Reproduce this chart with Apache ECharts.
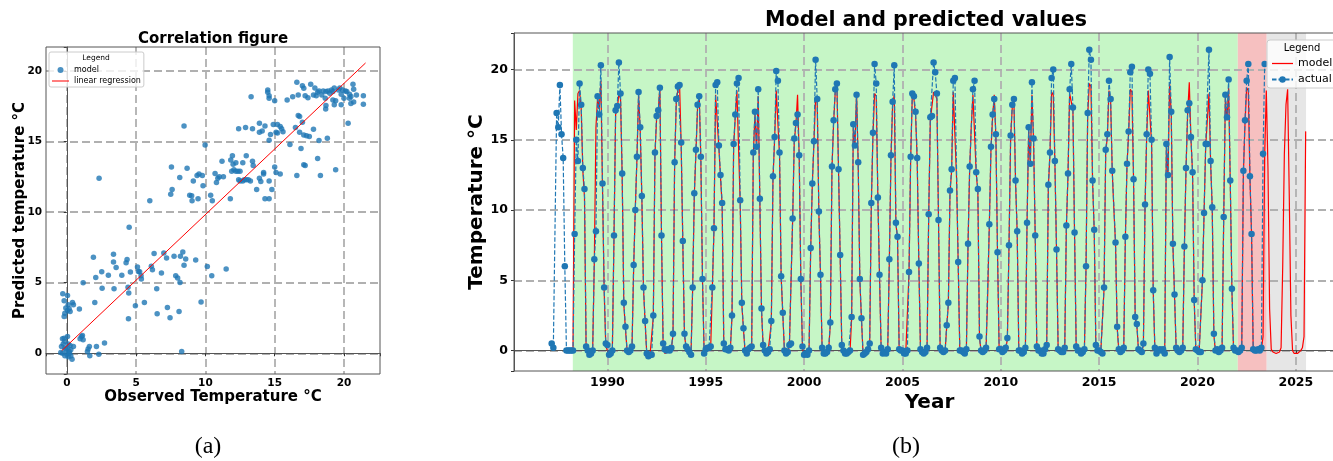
<!DOCTYPE html>
<html>
<head>
<meta charset="utf-8">
<title>Correlation figure / Model and predicted values</title>
<script src="https://cdn.jsdelivr.net/npm/echarts@6.0.0/dist/echarts.min.js"></script>
<style>
	html, body { margin: 0; padding: 0; background: #fff; }
	#chart { width: 1333px; height: 461px; }
</style>
</head>
<body>
<div id="chart"></div>
<script type="text/javascript">
// (a) observed vs predicted temperature, °C (same order in both arrays)
var obsTemp = [
	-0.29,0.05,-0.19,0.10,0.41,0.48,0.91,-0.07,0.17,0.05,
	-0.14,-0.19,0.24,-0.31,-0.19,0.05,-0.14,-0.26,0.10,0.24,
	-0.38,-0.14,0.48,-0.05,0.17,0.29,-0.31,0.00,-0.14,0.10,
	0.29,0.38,-0.43,0.05,0.20,0.96,1.06,1.18,1.13,1.54,
	1.63,1.49,1.66,2.14,2.72,2.31,
	4.50,1.92,3.37,3.37,3.56,4.28,4.35,2.52,3.00,3.97,
	4.59,5.10,5.17,5.26,5.36,5.38,2.09,1.18,2.55,3.41,
	4.42,4.47,4.45,2.02,4.95,5.60,6.10,6.18,6.30,6.83,
	7.00,7.20,6.49,6.52,7.26,7.45,7.74,8.20,8.37,8.46,
	8.58,7.86,8.00,8.17,8.10,9.30,9.69,10.14,10.46,11.50,8.29,
	2.33,5.99,8.46,7.55,7.50,7.60,8.15,8.68,8.87,9.01,
	9.04,9.13,9.40,9.54,9.78,9.83,9.47,9.98,10.38,10.50,
	10.70,10.80,10.90,11.00,11.30,11.20,11.80,11.83,11.95,12.00,
	12.20,11.90,12.06,12.20,12.35,12.50,12.70,12.95,12.70,12.80,
	12.95,13.10,13.25,13.40,13.45,12.50,12.40,13.70,13.90,14.00,
	14.20,14.20,14.30,14.60,14.80,14.60,15.00,15.10,15.40,16.60,
	17.10,17.20,18.10,18.30,19.40,16.90,12.40,12.90,13.40,13.90,
	14.10,14.30,13.90,14.70,14.60,14.90,15.20,15.40,15.50,15.60,
	15.20,15.10,16.10,16.50,16.70,16.80,17.00,16.80,17.10,17.30,
	17.50,17.80,18.20,18.80,20.30,14.50,14.50,14.60,14.60,13.30,
	15.00,15.90,16.30,16.60,16.70,17.00,17.10,17.20,17.40,17.60,
	17.90,17.80,18.00,18.10,18.20,18.40,18.50,18.65,18.70,18.85,
	18.97,19.10,19.20,18.70,18.68,19.20,19.30,19.40,19.70,19.80,
	19.80,20.10,20.20,20.40,20.50,20.65,20.70,20.90,20.40,20.50,
	20.70,21.40,21.40,19.90,19.60,19.30,20.00
];
var predTemp = [
	4.22,4.10,3.72,3.44,3.60,3.44,3.13,3.20,3.15,3.03,
	2.84,2.60,2.96,1.02,1.07,1.18,0.83,0.66,0.66,0.55,
	0.47,0.36,0.47,0.24,0.12,0.24,0.00,-0.05,-0.17,-0.24,
	-0.19,-0.43,0.05,0.36,0.00,1.02,1.18,0.95,1.26,0.31,
	0.47,0.12,-0.17,0.47,0.73,-0.07,
	8.93,6.80,7.01,6.47,6.07,6.42,6.64,5.78,5.52,5.52,
	5.76,6.11,5.80,5.78,5.50,5.26,5.36,5.00,4.60,4.57,
	4.67,4.27,2.44,3.60,3.36,3.60,6.16,5.92,7.06,5.69,
	7.10,6.75,4.57,2.80,3.25,2.51,6.87,6.87,7.18,6.23,
	6.68,5.50,5.33,5.02,2.96,6.61,3.63,6.14,5.50,5.97,0.12,
	12.40,10.80,16.10,13.20,11.27,11.60,12.45,13.10,11.20,11.16,
	10.80,12.20,12.60,12.70,12.60,11.86,10.94,14.76,11.20,10.80,
	12.74,12.10,12.40,12.50,12.50,13.60,10.94,13.70,14.00,13.40,
	13.50,12.90,13.00,12.90,12.90,12.90,13.50,14.00,12.20,12.30,
	12.30,12.30,12.20,13.60,13.30,12.20,12.30,11.60,12.40,12.17,
	12.70,12.80,10.94,10.94,11.60,12.20,13.20,12.80,12.70,12.60,
	13.35,13.30,13.80,12.60,13.00,14.50,15.90,16.00,15.90,16.30,
	15.75,16.10,15.66,15.50,15.10,16.20,16.20,16.06,15.90,15.70,
	15.60,15.66,14.80,15.99,16.84,16.77,16.37,15.66,15.47,15.42,
	15.35,15.87,15.07,15.24,16.30,18.66,18.50,18.25,18.07,18.18,
	17.90,17.95,18.18,19.20,18.30,18.96,18.77,18.25,18.10,19.06,
	18.80,18.30,18.25,18.50,18.58,18.30,18.58,18.07,18.54,18.58,
	18.42,18.66,18.54,17.55,17.30,17.95,17.60,17.90,18.80,18.35,
	17.60,18.58,18.54,18.35,18.20,19.06,18.70,18.30,18.07,17.70,
	17.80,18.25,17.64,18.66,18.66,18.80,18.07
];
// fitted line, end points
var regObs = [-0.36, 21.56];
var regPred = [0.19, 20.57];

// (b) monthly values, one row per year, Jan..Dec (null = no sample)
var actualStartYear = 1987;
var actualRows = [
	[null, null, 0.5, 0.2, null, 16.9, 15.9, 18.9, 15.4, 13.7, 6.0, 0.0],
	[0.0, 0.0, 0.0, 0.0, 8.3, 15.0, 13.5, 19.0, 17.5, 13.0, 11.5, 0.3],
	[0.0, -0.3, -0.2, 0.0, 6.5, 8.5, 18.1, 16.8, 20.3, 11.9, 4.5, 0.5],
	[0.4, -0.3, -0.2, 0.0, 8.2, 17.1, 17.4, 20.5, 18.3, 12.6, 3.4, 1.7],
	[0.0, -0.1, 0.0, 0.3, 6.1, 10.0, 13.8, 18.4, 15.9, 11.0, 4.5, 2.1],
	[-0.2, -0.4, -0.3, -0.3, 2.5, 14.1, 16.7, 17.1, 18.7, 8.2, 0.5, 0.1],
	[0.0, 0.1, 0.0, 0.2, 1.2, 13.4, 17.9, 18.8, 18.9, 14.8, 7.8, 1.2],
	[0.3, 0.1, -0.1, -0.3, 4.5, 11.2, 14.3, 17.5, 18.1, 13.8, 5.1, -0.2],
	[0.1, 0.2, 0.2, 0.3, 4.5, 8.7, 18.9, 19.1, 14.6, 12.5, 10.5, 0.5],
	[0.1, 0.1, 0.0, 0.2, 2.5, 14.7, 16.8, 19.0, 19.4, 10.7, 3.4, 1.6],
	[0.0, -0.2, 0.1, 0.2, 0.3, 14.1, 17.0, 14.5, 18.6, 10.8, 3.0, 0.4],
	[0.0, -0.2, -0.1, 0.1, 2.1, 12.4, 15.2, 19.9, 19.2, 14.1, 5.3, 2.7],
	[0.0, -0.2, -0.1, 0.4, 0.5, 9.4, 15.1, 16.2, 16.8, 13.9, 5.1, 0.3],
	[-0.3, -0.2, -0.3, 0.0, 7.3, 11.9, 14.9, 20.7, 17.9, 9.9, 5.4, 0.2],
	[-0.2, -0.2, -0.1, 0.2, 2.0, 13.1, 16.4, 18.6, 19.0, 12.9, 6.8, 0.4],
	[0.0, -0.2, -0.2, -0.1, 0.0, 2.4, 16.1, 14.6, 18.2, 13.4, 5.1, 2.3],
	[-0.3, -0.2, -0.1, 0.1, 0.5, 10.5, 15.5, 20.4, 19.0, 10.9, 5.4, 0.2],
	[-0.2, -0.1, -0.2, 0.1, 6.5, 13.9, 17.7, 20.3, 9.1, 8.1, 0.1, 0.0],
	[0.0, -0.2, -0.2, 0.0, 5.6, 13.8, 18.3, 18.1, 17.0, 13.7, 6.2, 0.1],
	[-0.1, -0.2, -0.1, 0.2, 9.7, 16.6, 16.7, 20.5, 19.8, 18.3, 9.3, 0.2],
	[0.0, -0.1, 0.0, 1.8, 3.4, 11.4, 12.9, 19.2, 19.4, null, 6.3, 0.0],
	[0.0, -0.1, -0.2, 0.1, 7.6, 13.1, null, 18.6, 19.2, 12.7, 11.5, 1.0],
	[0.0, -0.1, 0.0, 0.2, null, 9.0, 14.5, 16.8, 17.9, 15.4, 7.0, 0.1],
	[0.1, -0.1, 0.0, 0.2, 0.9, 7.5, 15.3, 17.5, 17.9, 12.1, 8.5, 0.0],
	[0.0, -0.2, -0.1, 0.2, 9.1, 15.9, 13.3, 19.1, 15.1, 8.2, 0.3, 0.0],
	[0.0, -0.2, -0.2, 0.1, 0.4, 11.8, 14.1, 19.4, 20.0, 13.5, 7.2, 0.1],
	[0.0, -0.1, -0.1, 0.2, 8.9, 12.6, 18.6, 20.4, 17.3, 8.4, 0.3, 0.0],
	[0.0, -0.2, -0.1, 0.1, 6.0, 16.9, 21.4, 20.7, 12.1, 8.6, 0.4, 0.0],
	[0.0, -0.1, -0.2, 4.5, 14.3, 15.4, 19.2, 17.9, 12.8, null, 7.7, 1.7],
	[0.1, -0.1, 0.0, 0.2, 8.1, 13.3, 15.6, 19.8, 20.2, 12.2, 2.4, 1.9],
	[0.1, 0.0, -0.1, 0.5, 10.4, 15.4, 20.0, 19.7, 15.0, 4.3, 0.2, -0.2],
	[0.0, 0.1, 0.0, 0.1, -0.2, 14.7, 12.5, 20.9, 17.0, 7.6, 4.0, 0.2],
	[0.0, -0.1, 0.0, 0.2, 7.4, 13.0, 17.1, 17.6, 15.2, 12.7, 3.6, 0.1],
	[0.0, -0.1, -0.1, 5.0, 9.8, 14.7, 14.7, 21.4, 13.5, 10.2, 1.2, 0.0],
	[0.1, -0.1, 0.0, 0.2, 9.5, 18.2, 16.6, 19.3, 12.1, 4.4, 0.2, 0.0],
	[0.0, -0.1, 0.0, 0.2, 12.8, 16.4, 19.2, 20.4, 12.4, 8.3, 0.1, 0.0],
	[0.0, 0.1, 0.0, 0.2, 14.0, 20.4]
];
var modelStartYear = 1988;
var modelRows = [
	[null, null, null, 0.0, 17.8, 15.7, 18.3, 18.5, 17.2, 12.8, 10.9, 0.2],
	[-0.1, -0.2, -0.1, 0.1, 6.3, 15.9, 18.0, 17.2, 19.2, 11.5, 4.3, 0.3],
	[0.2, -0.3, -0.3, 0.0, 8.0, 16.8, 17.2, 18.3, 17.9, 12.4, 3.3, 1.5],
	[0.0, -0.2, -0.1, 0.2, 5.9, 10.1, 13.6, 18.2, 15.7, 10.9, 4.4, 2.0],
	[-0.2, -0.3, -0.3, -0.2, 2.4, 13.9, 16.5, 17.0, 18.8, 8.0, 0.3, -0.2],
	[-0.3, -0.1, -0.1, 0.1, 1.1, 13.3, 17.6, 18.6, 19.0, 14.6, 7.6, 1.1],
	[0.2, 0.0, -0.1, -0.2, 4.4, 11.0, 14.1, 17.3, 18.2, 13.6, 5.0, -0.1],
	[0.0, 0.1, 0.1, 0.2, 4.4, 8.6, 18.2, 18.3, 14.4, 12.3, 10.3, 0.4],
	[0.0, 0.0, -0.1, 0.1, 2.4, 14.5, 16.6, 18.5, 18.6, 10.5, 3.3, 1.5],
	[-0.1, -0.2, 0.0, 0.1, 0.2, 13.9, 16.8, 14.4, 18.1, 10.6, 2.9, 0.3],
	[-0.1, -0.2, -0.1, 0.0, 2.0, 12.2, 15.0, 18.5, 18.4, 13.9, 5.2, 2.6],
	[-0.1, -0.2, -0.1, 0.3, 0.4, 9.3, 14.9, 16.1, 18.2, 13.8, 5.0, 0.2],
	[-0.3, -0.3, -0.3, -0.1, 7.1, 11.8, 14.8, 18.0, 17.6, 9.8, 5.3, 0.1],
	[-0.2, -0.2, -0.2, 0.1, 1.9, 13.0, 16.2, 18.4, 19.0, 12.8, 6.7, 0.3],
	[-0.1, -0.2, -0.2, -0.1, -0.1, 2.3, 15.9, 14.5, 18.4, 13.2, 5.0, 2.2],
	[-0.3, -0.3, -0.2, 0.0, 0.4, 10.4, 15.3, 18.3, 18.1, 10.8, 5.3, 0.1],
	[-0.2, -0.2, -0.2, 0.0, 6.4, 13.7, 17.5, 18.2, 9.0, 8.0, 0.0, -0.1],
	[-0.1, -0.2, -0.2, -0.1, 5.5, 13.6, 18.1, 17.9, 16.8, 13.5, 6.1, 0.0],
	[-0.1, -0.2, -0.2, 0.1, 9.5, 16.4, 16.5, 18.4, 18.2, 17.9, 9.2, 0.1],
	[-0.1, -0.1, -0.1, 1.7, 3.3, 11.2, 12.8, 18.4, 18.3, 12.3, 6.2, -0.1],
	[-0.1, -0.1, -0.2, 0.0, 7.5, 12.9, 16.0, 18.2, 18.1, 12.6, 11.3, 0.9],
	[-0.1, -0.1, -0.1, 0.1, 4.0, 8.9, 14.3, 16.6, 18.2, 15.2, 6.9, 0.0],
	[0.0, -0.1, -0.1, 0.1, 0.8, 7.4, 15.1, 17.3, 17.8, 12.0, 8.4, -0.1],
	[-0.1, -0.2, -0.1, 0.1, 9.0, 15.7, 13.2, 18.2, 14.9, 8.1, 0.2, -0.1],
	[-0.1, -0.2, -0.2, 0.0, 0.3, 11.6, 14.0, 18.4, 18.2, 13.4, 7.1, 0.0],
	[-0.1, -0.1, -0.1, 0.1, 8.8, 12.5, 18.3, 18.3, 17.1, 8.3, 0.2, -0.1],
	[-0.1, -0.2, -0.2, 0.0, 5.9, 16.7, 19.0, 18.8, 12.0, 8.5, 0.3, -0.1],
	[-0.1, -0.1, -0.2, 4.4, 14.1, 15.2, 18.5, 17.8, 12.7, 10.0, 7.6, 1.6],
	[0.0, -0.1, -0.1, 0.1, 8.0, 13.2, 15.5, 18.6, 18.4, 12.1, 2.3, 1.8],
	[0.0, -0.1, -0.1, 0.4, 10.3, 15.2, 18.5, 18.4, 14.8, 4.2, 0.1, -0.2],
	[-0.1, 0.0, -0.1, 0.0, -0.2, 14.5, 12.4, 19.0, 16.8, 7.5, 3.9, 0.1],
	[-0.1, -0.1, -0.1, 0.1, 7.3, 12.9, 16.9, 19.1, 15.1, 12.6, 3.5, 0.0],
	[-0.1, -0.1, -0.1, 4.9, 9.7, 14.5, 14.6, 18.3, 13.4, 10.1, 1.1, -0.1],
	[0.0, -0.1, -0.1, 0.1, 9.4, 18.0, 16.4, 18.7, 12.0, 4.3, 0.1, -0.1],
	[-0.1, -0.1, -0.1, 0.1, 12.6, 16.2, 18.7, 18.5, 12.3, 8.2, 0.0, -0.1],
	[-0.1, 0.0, -0.1, 0.1, 1.0, 14.0, 18.5, 13.0, 3.0, 0.1, -0.1, -0.2],
	[-0.2, -0.2, -0.1, 0.2, 6.0, 14.0, 17.5, 18.6, 11.0, 2.5, 0.0, -0.2],
	[-0.2, -0.2, -0.1, 0.0, 0.2, 1.0, 15.6]
];
// shaded periods, in years
var trainSpan = [1988.24, 2022.05];
var testSpan = [2022.05, 2023.52];
var forecastSpan = [2023.52, 2025.52];

var legendText = { modelA: 'model', regA: 'linear regression', modelB: 'model', actualB: 'actual' };

function monthly(startYear, rows) {
	var out = [];
	rows.forEach(function (row, i) {
		row.forEach(function (v, m) {
			if (v !== null) out.push([startYear + i + m / 12, v]);
		});
	});
	return out;
}

var scatterPts = obsTemp.map(function (x, i) { return [x, predTemp[i]]; });
var regPts = [[regObs[0], regPred[0]], [regObs[1], regPred[1]]];

var FONT = 'DejaVu Sans';
// plain thin bar used as legend icon for the solid red lines
var LINE_ICON = 'path://M0,0 L20,0 L20,1.2 L0,1.2 Z';
var gridLine = { show: true, showMinLine: false, showMaxLine: false, lineStyle: { color: '#b0b0b0', width: 1.8, type: [8, 4] } };
var tick = { show: true, length: 3, lineStyle: { color: '#333', width: 1 } };
var frame = { show: true, lineStyle: { color: '#555', width: 1 } };
function label(size, margin, fmt) {
	return { show: true, fontFamily: FONT, fontWeight: 'bold', fontSize: size, color: '#000', margin: margin, formatter: fmt };
}
function everyFive(v) { return Math.abs(v % 5) < 1e-6 ? String(v) : ''; }
function nameStyle(size) {
	return { fontFamily: FONT, fontWeight: 'bold', fontSize: size, color: '#000' };
}

var chart = echarts.init(document.getElementById('chart'));
chart.setOption({
	animation: false,
	backgroundColor: '#fff',
	textStyle: { fontFamily: FONT },
	grid: [
		{ left: 46, top: 47, width: 334, height: 327, show: true, borderColor: '#555', borderWidth: 1, z: 1, outerBoundsMode: 'none', containLabel: false },
		{ left: 514, top: 33, width: 831, height: 338, show: true, borderColor: '#555', borderWidth: 1, z: 1.7, outerBoundsMode: 'none', containLabel: false }
	],
	xAxis: [
		{
			type: 'value', gridIndex: 0, min: -1.5, max: 22.6, splitNumber: 5,
			axisLine: frame, axisTick: tick, splitLine: gridLine,
			axisLabel: label(10.5, 4, everyFive),
			name: 'Observed Temperature °C', nameLocation: 'middle', nameGap: 16, nameMoveOverlap: false,
			nameTextStyle: nameStyle(15)
		},
		{
			type: 'value', gridIndex: 1, min: 1985.25, max: 2027.5, splitNumber: 8, z: 1.5,
			axisLine: frame, axisTick: tick, splitLine: gridLine,
			axisLabel: label(12.5, 5, everyFive),
			name: 'Year', nameLocation: 'middle', nameGap: 22, nameMoveOverlap: false,
			nameTextStyle: nameStyle(20)
		}
	],
	yAxis: [
		{
			type: 'value', gridIndex: 0, min: -1.47, max: 21.7, splitNumber: 5,
			axisLine: frame, axisTick: tick, splitLine: gridLine,
			axisLabel: label(10.5, 4, everyFive),
			name: 'Predicted temperature °C', nameLocation: 'middle', nameGap: 18, nameMoveOverlap: false,
			nameTextStyle: nameStyle(15)
		},
		{
			type: 'value', gridIndex: 1, min: -1.45, max: 22.6, splitNumber: 5, z: 1.5,
			axisLine: frame, axisTick: tick, splitLine: gridLine,
			axisLabel: label(12.5, 6, everyFive),
			name: 'Temperature °C', nameLocation: 'middle', nameGap: 27, nameMoveOverlap: false,
			nameTextStyle: nameStyle(20)
		}
	],
	legend: [
		{
			left: 49, top: 52, orient: 'vertical', selectedMode: false, z: 10,
			data: [{ name: 'modelA', icon: 'circle' }, { name: 'regA', icon: LINE_ICON }],
			formatter: function (n) { return legendText[n]; },
			itemWidth: 17, itemHeight: 6, itemGap: 3, padding: [14, 3, 2, 3],
			textStyle: { fontFamily: FONT, fontSize: 8, color: '#000' },
			backgroundColor: 'rgba(255,255,255,0.8)', borderColor: '#cccccc', borderWidth: 1, borderRadius: 2
		},
		{
			left: 1267, top: 40, orient: 'vertical', selectedMode: false, z: 10,
			data: [{ name: 'modelB', icon: LINE_ICON }, 'actualB'],
			formatter: function (n) { return legendText[n]; },
			itemWidth: 21, itemHeight: 8, itemGap: 5, padding: [18, 5, 3, 4],
			textStyle: { fontFamily: FONT, fontSize: 11, color: '#000' },
			backgroundColor: 'rgba(255,255,255,0.8)', borderColor: '#cccccc', borderWidth: 1, borderRadius: 3
		}
	],
	graphic: [
		{ type: 'text', x: 213, y: 39, z: 30, style: { text: 'Correlation figure', align: 'center', verticalAlign: 'middle', textAlign: 'center', textVerticalAlign: 'middle', fontFamily: FONT, fontWeight: 'bold', fontSize: 15, fill: '#000' } },
		{ type: 'text', x: 926, y: 21, z: 30, style: { text: 'Model and predicted values', align: 'center', verticalAlign: 'middle', textAlign: 'center', textVerticalAlign: 'middle', fontFamily: FONT, fontWeight: 'bold', fontSize: 20.6, fill: '#000' } },
		{ type: 'text', x: 96, y: 58.5, z: 30, style: { text: 'Legend', align: 'center', verticalAlign: 'middle', textAlign: 'center', textVerticalAlign: 'middle', fontFamily: FONT, fontSize: 7.5, fill: '#000' } },
		{ type: 'text', x: 1302, y: 48, z: 30, style: { text: 'Legend', align: 'center', verticalAlign: 'middle', textAlign: 'center', textVerticalAlign: 'middle', fontFamily: FONT, fontSize: 10, fill: '#000' } },
		{ type: 'text', x: 208, y: 447, z: 30, style: { text: '(a)', align: 'center', verticalAlign: 'middle', textAlign: 'center', textVerticalAlign: 'middle', fontFamily: 'Liberation Serif', fontSize: 24, fill: '#000' } },
		{ type: 'text', x: 906, y: 447, z: 30, style: { text: '(b)', align: 'center', verticalAlign: 'middle', textAlign: 'center', textVerticalAlign: 'middle', fontFamily: 'Liberation Serif', fontSize: 24, fill: '#000' } }
	],
	series: [
		{
			name: 'modelA', type: 'scatter', xAxisIndex: 0, yAxisIndex: 0, z: 3,
			symbol: 'circle', symbolSize: 5.5,
			itemStyle: { color: '#1f77b4', borderWidth: 0 },
			data: scatterPts
		},
		{
			name: 'regA', type: 'line', xAxisIndex: 0, yAxisIndex: 0, z: 4,
			symbol: 'none', showSymbol: false,
			lineStyle: { color: '#ff0000', width: 1 }, itemStyle: { color: '#ff0000' },
			data: regPts
		},
		{
			name: 'periods', type: 'line', xAxisIndex: 1, yAxisIndex: 1, z: 1, silent: true,
			symbol: 'none', data: [],
			markArea: {
				silent: true, z: 1,
				data: [
					[{ xAxis: trainSpan[0], itemStyle: { color: 'rgb(198,246,198)' } }, { xAxis: trainSpan[1] }],
					[{ xAxis: testSpan[0], itemStyle: { color: 'rgb(246,192,192)' } }, { xAxis: testSpan[1] }],
					[{ xAxis: forecastSpan[0], itemStyle: { color: 'rgb(230,230,230)' } }, { xAxis: forecastSpan[1] }]
				]
			}
		},
		{
			name: 'modelB', type: 'line', xAxisIndex: 1, yAxisIndex: 1, z: 5,
			symbol: 'none', showSymbol: false,
			lineStyle: { color: '#ff0000', width: 1.2 }, itemStyle: { color: '#ff0000' },
			data: monthly(modelStartYear, modelRows)
		},
		{
			name: 'actualB', type: 'line', xAxisIndex: 1, yAxisIndex: 1, z: 6,
			symbol: 'circle', symbolSize: 6.5, showSymbol: true,
			lineStyle: { color: '#1f77b4', width: 1.2, type: [4.5, 2] },
			itemStyle: { color: '#1f77b4', borderWidth: 0 },
			data: monthly(actualStartYear, actualRows)
		}
	]
});
</script>
</body>
</html>
